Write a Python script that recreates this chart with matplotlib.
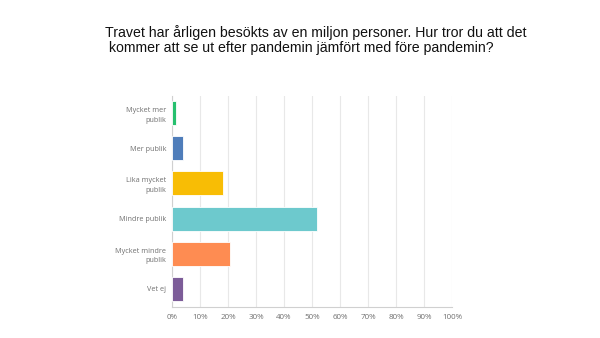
import matplotlib
matplotlib.use('Agg')
import matplotlib.pyplot as plt

categories = ['Mycket mer\npublik', 'Mer publik', 'Lika mycket\npublik',
              'Mindre publik', 'Mycket mindre\npublik', 'Vet ej']
values = [1.3, 3.9, 18.2, 51.9, 20.8, 3.9]
colors = ['#26c06e', '#4f7dba', '#f8bd05', '#6dc9cd', '#fe8c52', '#7c5c98']
ticks = list(range(0, 101, 10))
tick_labels = [f'{t}%' for t in ticks]

fig = plt.figure(figsize=(6, 3.38), dpi=100)
ax = fig.add_axes([172 / 600, 1 - 306.5 / 338, 280 / 600, 211 / 338])

ypos = list(range(len(categories)))
ax.barh(ypos, values, height=0.68, color=colors, edgecolor='white', linewidth=0.6, zorder=3)
ax.set_ylim(len(categories) - 0.5, -0.5)
ax.set_xlim(0, 100)

ax.set_xticks(ticks)
ax.set_xticklabels(tick_labels, fontsize=5.8)
ax.set_yticks(ypos)
ax.set_yticklabels(categories, ha='right', multialignment='right', fontsize=5.2, linespacing=1.55)
ax.tick_params(axis='both', length=0, labelcolor='#707070', labelfontfamily='Open Sans')
ax.tick_params(axis='y', pad=4)
ax.tick_params(axis='x', pad=5.5)

ax.grid(axis='x', color='#e8e8e8', linewidth=0.8, zorder=0)
for side in ['top', 'right']:
    ax.spines[side].set_visible(False)
ax.spines['left'].set_color('#d0d0d0')
ax.spines['bottom'].set_color('#d0d0d0')
ax.spines['left'].set_linewidth(0.8)
ax.spines['bottom'].set_linewidth(0.8)

fig.text(105 / 600, 1 - 33 / 338, 'Travet har årligen besökts av en miljon personer. Hur tror du att det',
         fontsize=10.2, family='Liberation Sans', va='center', ha='left', color='#111111')
fig.text(105 / 600, 1 - 48 / 338, ' kommer att se ut efter pandemin jämfört med före pandemin?',
         fontsize=10.2, family='Liberation Sans', va='center', ha='left', color='#111111')

fig.savefig('out.png', dpi=100)
